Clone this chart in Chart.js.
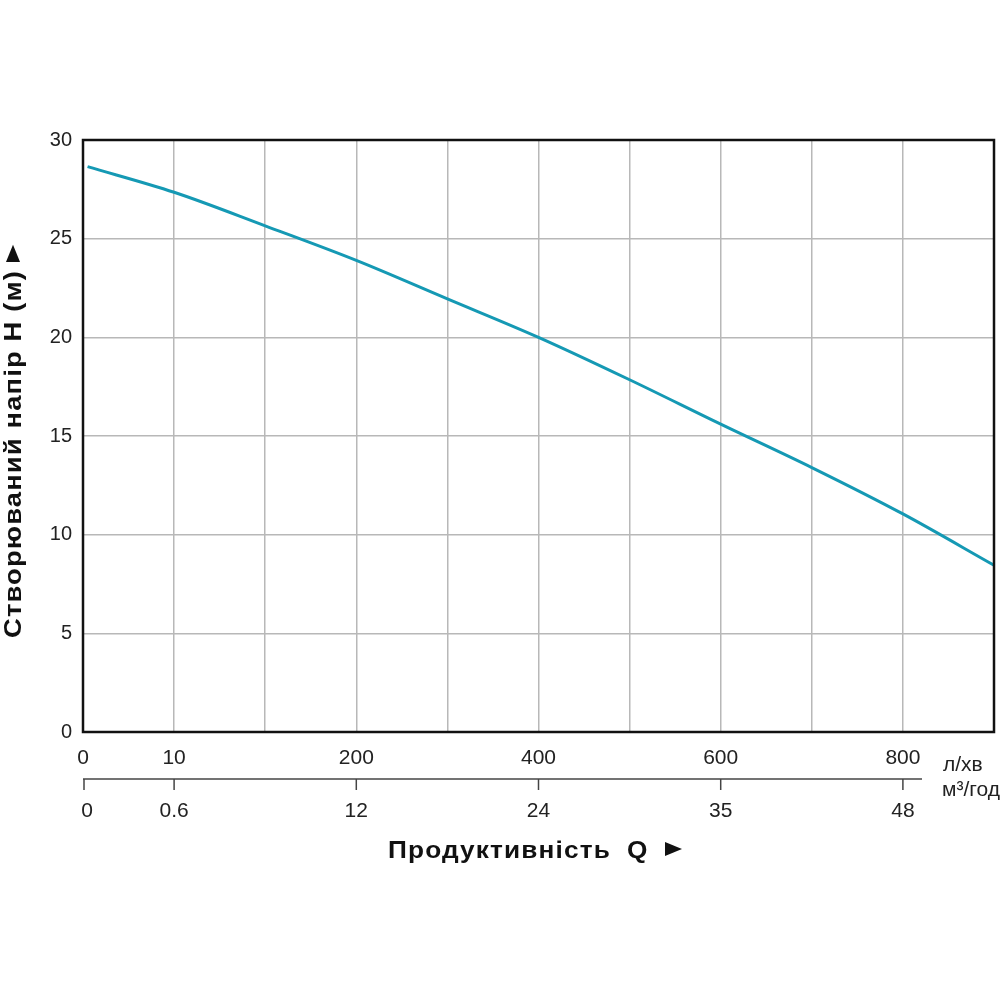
<!DOCTYPE html>
<html>
<head>
<meta charset="utf-8">
<script src="https://cdn.jsdelivr.net/npm/chart.js@4"></script>
<style>
html,body{margin:0;padding:0;background:#fff;}
canvas{display:block;}
</style>
</head>
<body>
<canvas id="c" width="1000" height="1000"></canvas>
<script>
// Data (x in grid-division units)
const curveX = [0.05, 1, 2, 3, 4, 5, 6, 7, 8, 9, 10];
const curveH = [28.65, 27.35, 25.65, 23.9, 21.95, 20.0, 17.85, 15.6, 13.4, 11.05, 8.45];
const tickPos = [0, 1, 3, 5, 7, 9];
const flowLpm = ['0', '10', '200', '400', '600', '800'];
const flowM3h = ['0', '0.6', '12', '24', '35', '48'];
const yTitle = 'Створюваний напір H (м)';
const xTitle = 'Продуктивність';
const xTitleSym = 'Q';
const unitTop = 'л/хв';
const unitBottom = 'м³/год';

const FONT = '"Liberation Sans", Arial, sans-serif';

const extras = {
  id: 'extras',
  afterDraw(chart) {
    const ctx = chart.ctx;
    const a = chart.chartArea;
    const xs = chart.scales.x;
    ctx.save();
    // frame
    ctx.strokeStyle = '#111';
    ctx.lineWidth = 2.5;
    ctx.strokeRect(a.left, a.top, a.right - a.left, a.bottom - a.top);

    // second axis
    const y2 = a.bottom + 47;
    ctx.strokeStyle = '#444';
    ctx.lineWidth = 1.5;
    ctx.beginPath();
    ctx.moveTo(xs.getPixelForValue(0), y2);
    ctx.lineTo(xs.getPixelForValue(9.21), y2);
    ctx.stroke();
    ctx.fillStyle = '#222';
    ctx.font = '21px ' + FONT;
    ctx.textAlign = 'center';
    ctx.textBaseline = 'middle';
    tickPos.forEach((p, i) => {
      const px = xs.getPixelForValue(p) + (p === 0 ? 1 : 0);
      ctx.beginPath();
      ctx.moveTo(px, y2);
      ctx.lineTo(px, y2 + 11);
      ctx.stroke();
      ctx.fillText(flowM3h[i], px + (p === 0 ? 3 : 0), y2 + 32);
    });

    // units
    ctx.textAlign = 'left';
    ctx.textBaseline = 'alphabetic';
    ctx.font = '21px ' + FONT;
    ctx.fillText(unitTop, 943, 771);
    ctx.fillText(unitBottom, 942, 796);

    // x title
    ctx.fillStyle = '#111';
    ctx.save();
    ctx.translate(388, 858);
    ctx.scale(1.14, 1);
    ctx.font = 'bold 23px ' + FONT;
    ctx.letterSpacing = '1px';
    ctx.textAlign = 'left';
    ctx.fillText(xTitle, 0, 0);
    ctx.restore();
    ctx.save();
    ctx.translate(627, 858);
    ctx.scale(1.14, 1);
    ctx.font = 'bold 23px ' + FONT;
    ctx.fillText(xTitleSym, 0, 0);
    ctx.restore();
    ctx.beginPath();
    ctx.moveTo(665, 842);
    ctx.lineTo(682, 849);
    ctx.lineTo(665, 856);
    ctx.closePath();
    ctx.fill();

    // y title
    ctx.save();
    ctx.translate(21, 638);
    ctx.rotate(-Math.PI / 2);
    ctx.scale(1.14, 1);
    ctx.font = 'bold 24px ' + FONT;
    ctx.letterSpacing = '1px';
    ctx.textAlign = 'left';
    ctx.fillText(yTitle, 0, 0);
    const w = ctx.measureText(yTitle).width;
    ctx.beginPath();
    ctx.moveTo(w + 7, -1);
    ctx.lineTo(w + 22, -8);
    ctx.lineTo(w + 7, -15);
    ctx.closePath();
    ctx.fill();
    ctx.restore();

    ctx.restore();
  }
};

new Chart(document.getElementById('c'), {
  type: 'line',
  data: {
    datasets: [{
      data: curveX.map((x, i) => ({ x: x, y: curveH[i] })),
      borderColor: '#1599b4',
      borderWidth: 3,
      pointRadius: 0,
      fill: false,
      cubicInterpolationMode: 'monotone'
    }]
  },
  options: {
    responsive: false,
    devicePixelRatio: 1,
    animation: false,
    layout: { padding: { left: 0, top: 140, right: 6, bottom: 228 } },
    plugins: { legend: { display: false }, tooltip: { enabled: false } },
    scales: {
      x: {
        type: 'linear',
        min: 0, max: 10,
        afterFit(s) { s.height = 40; s.paddingLeft = 0; s.paddingRight = 0; },
        grid: { color: '#b8b8b8', lineWidth: 1.5, drawTicks: false },
        border: { display: false },
        ticks: {
          stepSize: 1,
          autoSkip: false,
          maxRotation: 0,
          padding: 14,
          color: '#222',
          font: { size: 21, family: FONT },
          callback(v) {
            const i = tickPos.indexOf(v);
            return i >= 0 ? flowLpm[i] : '';
          }
        }
      },
      y: {
        min: 0, max: 30,
        afterFit(s) { s.width = 83; s.paddingTop = 0; s.paddingBottom = 0; },
        grid: { color: '#b8b8b8', lineWidth: 1.5, drawTicks: false },
        border: { display: false },
        ticks: {
          stepSize: 5,
          padding: 11,
          color: '#222',
          font: { size: 20, family: FONT }
        }
      }
    }
  },
  plugins: [extras]
});
</script>
</body>
</html>
